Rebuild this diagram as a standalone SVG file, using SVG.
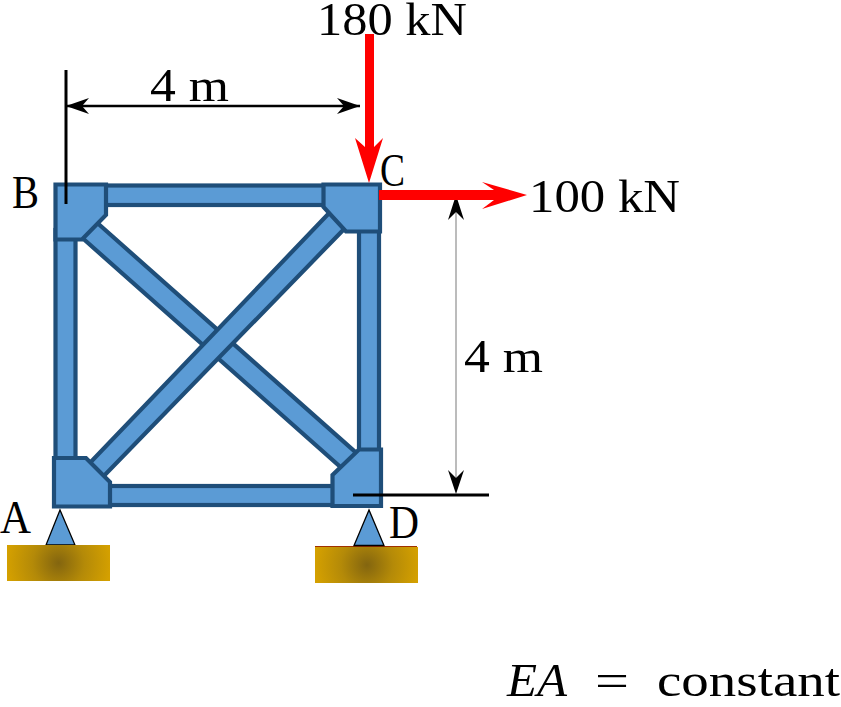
<svg xmlns="http://www.w3.org/2000/svg" width="841" height="707" viewBox="0 0 841 707">
<style>
text{font-family:"Liberation Serif","DejaVu Serif",serif;fill:#000;font-size:47px}
.m{fill:#5b9bd5;stroke:#1f4e79;stroke-width:4.2;stroke-linejoin:miter}
.s{fill:#5b9bd5;stroke:#000;stroke-width:1.3}
.d{fill:none;stroke:#000;stroke-width:3}
.r{fill:#f00}
</style>
<defs>
<radialGradient id="g1" gradientUnits="userSpaceOnUse" cx="58.500" cy="563" r="52"><stop offset="0" stop-color="#83650f"/><stop offset="0.5" stop-color="#b48a08"/><stop offset="1" stop-color="#d4a000"/></radialGradient>
<radialGradient id="g2" gradientUnits="userSpaceOnUse" cx="367" cy="565" r="52"><stop offset="0" stop-color="#83650f"/><stop offset="0.5" stop-color="#b48a08"/><stop offset="1" stop-color="#d4a000"/></radialGradient>
<marker id="ah" viewBox="0 0 23 16" refX="23" refY="8" markerWidth="23" markerHeight="16" markerUnits="userSpaceOnUse" orient="auto-start-reverse"><path d="M0 0L23 8L0 16L7 8Z" fill="#000"/></marker>
</defs>
<g id="members">
<rect id="top-chord" class="m" x="100" y="185.500" width="230" height="19.500"/>
<rect id="bottom-chord" class="m" x="100" y="486" width="240" height="19"/>
<rect id="left-chord" class="m" x="55.500" y="230" width="20" height="235"/>
<rect id="right-chord" class="m" x="359" y="225" width="20" height="230"/>
<polygon id="diag-bd" class="m" points="94,220 362,458 345,471 79,235"/>
<polygon id="diag-ac" class="m" points="333,209 349,224 98,482 85,468"/>
</g>
<g id="node-B"><polygon class="m" points="55.500,184.500 106,184.500 106,215 82,239.500 55.500,239.500"/></g>
<g id="node-C"><polygon class="m" points="323.500,184.500 380,184.500 380,231.500 346,231.500 323.500,207"/></g>
<g id="node-A"><polygon class="m" points="54,458 86,458 110,482 110,506.500 54,506.500"/></g>
<g id="node-D"><polygon class="m" points="332.500,475 359,449.500 381,449.500 381,506 332.500,506"/></g>
<g id="support-A">
<polygon class="s" points="60,510 46,545 75,545"/>
<rect x="7" y="545" width="103" height="36" fill="url(#g1)"/>
</g>
<g id="support-D">
<rect x="315" y="547" width="103" height="36" fill="url(#g2)"/>
<path d="M315 546.500H417" stroke="#a03000" stroke-width="1.200"/>
<polygon class="s" points="369,510 354,545.500 384,545.500"/>
</g>
<g id="connectors">
<path d="M66 70V204" class="d"/>
<path d="M66 106H360" stroke="#000" stroke-width="2.500" marker-start="url(#ah)" marker-end="url(#ah)" fill="none"/>
<path d="M353 495H489" class="d"/>
<path d="M456 200V490" stroke="#b5b5b5" stroke-width="1.800" fill="none"/>
<path d="M456 195L448 220L456 212L464 220Z"/>
<path d="M456 494L448 470L456 478L464 470Z"/>
<path class="r" d="M365 34H374V147L383 138L369 183L355 138L365 147Z"/>
<path class="r" d="M379 190H494L482 182L527 195L482 209L494 200H379Z"/>
</g>
<g id="labels">
<text x="317" y="35" textLength="150" lengthAdjust="spacingAndGlyphs">180 kN</text>
<text x="150" y="101" textLength="79" lengthAdjust="spacingAndGlyphs">4 m</text>
<text x="12" y="208" textLength="27" lengthAdjust="spacingAndGlyphs">B</text>
<text x="380" y="186" textLength="25" lengthAdjust="spacingAndGlyphs">C</text>
<text x="529" y="212" textLength="151" lengthAdjust="spacingAndGlyphs">100 kN</text>
<text x="464" y="372" textLength="79" lengthAdjust="spacingAndGlyphs">4 m</text>
<text x="0" y="533" textLength="31" lengthAdjust="spacingAndGlyphs">A</text>
<text x="389" y="538" textLength="30" lengthAdjust="spacingAndGlyphs">D</text>
<text x="507" y="696" textLength="60" lengthAdjust="spacingAndGlyphs" font-style="italic">EA</text>
<text x="595" y="696" textLength="34" lengthAdjust="spacingAndGlyphs">=</text>
<text x="657" y="696" textLength="183" lengthAdjust="spacingAndGlyphs">constant</text>
</g>
</svg>
